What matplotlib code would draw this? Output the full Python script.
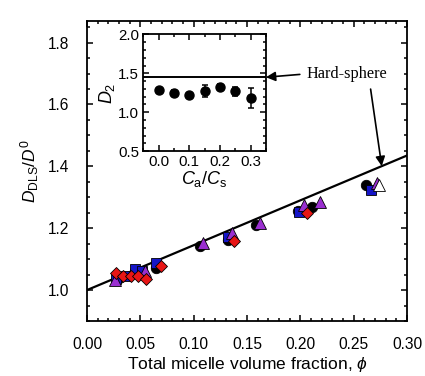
import matplotlib.pyplot as plt
import numpy as np
from matplotlib.ticker import MultipleLocator

plt.rcParams['font.family'] = ['Liberation Sans', 'DejaVu Sans']
plt.rcParams['mathtext.fontset'] = 'custom'
plt.rcParams['mathtext.rm'] = 'Liberation Sans'
plt.rcParams['mathtext.it'] = 'Liberation Sans:italic'

# main plot data: D_DLS/D0 vs total micelle volume fraction
phi_circle = [0.030, 0.045, 0.065, 0.106, 0.132, 0.158, 0.198, 0.211, 0.262]
d_circle = [1.040, 1.060, 1.070, 1.142, 1.162, 1.210, 1.256, 1.270, 1.340]

phi_square = [0.027, 0.037, 0.045, 0.052, 0.065, 0.1325, 0.199, 0.266]
d_square = [1.035, 1.045, 1.067, 1.060, 1.086, 1.172, 1.253, 1.324]

phi_tri = [0.026, 0.054, 0.1085, 0.1356, 0.162, 0.203, 0.218, 0.272]
d_tri = [1.032, 1.060, 1.151, 1.183, 1.216, 1.275, 1.286, 1.347]

phi_diam = [0.027, 0.034, 0.041, 0.0475, 0.055, 0.069, 0.138, 0.206]
d_diam = [1.054, 1.045, 1.045, 1.046, 1.036, 1.079, 1.160, 1.248]

phi_open = [0.274]
d_open = [1.340]

# hard-sphere slope
D2_hs = 1.45
phi_line = [0.0, 0.30]

# inset data: D2 vs Ca/Cs
ratio = [0.0, 0.05, 0.10, 0.15, 0.20, 0.25, 0.30]
D2 = [1.28, 1.25, 1.22, 1.27, 1.33, 1.27, 1.18]
D2_err = [0.03, 0.04, 0.03, 0.08, 0.03, 0.06, 0.13]

fig = plt.figure(figsize=(4.25, 3.76), dpi=100)
ax = fig.add_axes([0.2047, 0.1463, 0.753, 0.798])

ax.plot(phi_line, [1 + D2_hs * p for p in phi_line], color='black', lw=1.6, zorder=2)

mk = dict(linestyle='none', markeredgecolor='black', markeredgewidth=0.6, zorder=3)
ax.plot(phi_circle, d_circle, marker='o', color='black', ms=7.5, **mk)
ax.plot(phi_square, d_square, marker='s', color='#1515c8', ms=7, **mk)
ax.plot(phi_tri, d_tri, marker='^', color='#9a2fd0', ms=8.5, **mk)
ax.plot(phi_diam, d_diam, marker='D', color='#e81515', ms=6.5, **mk)
ax.plot(phi_open, d_open, marker='^', color='white', ms=8, **mk)

ax.set_xlim(0, 0.30)
ax.set_ylim(0.9, 1.87)
ax.xaxis.set_major_locator(MultipleLocator(0.05))
ax.xaxis.set_minor_locator(MultipleLocator(0.01))
ax.yaxis.set_major_locator(MultipleLocator(0.2))
ax.yaxis.set_minor_locator(MultipleLocator(0.05))
ax.xaxis.set_major_formatter(plt.FormatStrFormatter('%.2f'))
ax.yaxis.set_major_formatter(plt.FormatStrFormatter('%.1f'))
ax.tick_params(which='both', direction='in', top=True, right=True, width=1.1, labelsize=11.2)
ax.tick_params(which='major', length=4.5)
ax.tick_params(which='minor', length=2.5)
ax.tick_params(axis='x', pad=11.5)
ax.tick_params(axis='y', pad=13)
for s in ax.spines.values():
    s.set_linewidth(1.3)
ax.set_xlabel(r'Total micelle volume fraction, $\phi$', fontsize=12.5, labelpad=2)
ax.set_ylabel(r'$D_\mathrm{DLS}/D^0$', fontsize=12.5, labelpad=5)

# inset
ins = fig.add_axes([0.337, 0.598, 0.2887, 0.3104])
ins.axhline(D2_hs, color='black', lw=1.4)
ins.errorbar(ratio, D2, yerr=D2_err, fmt='o', color='black', ms=6.5,
             capsize=2.5, elinewidth=1.1, capthick=1.1)
ins.set_xlim(-0.05, 0.35)
ins.set_ylim(0.5, 2.0)
ins.xaxis.set_major_locator(MultipleLocator(0.1))
ins.xaxis.set_minor_locator(MultipleLocator(0.05))
ins.yaxis.set_major_locator(MultipleLocator(0.5))
ins.yaxis.set_minor_locator(MultipleLocator(0.1))
ins.xaxis.set_major_formatter(plt.FormatStrFormatter('%.1f'))
ins.yaxis.set_major_formatter(plt.FormatStrFormatter('%.1f'))
ins.tick_params(which='both', direction='in', top=True, right=True, width=1.1, labelsize=10.8)
ins.tick_params(which='major', length=4.5, pad=3)
ins.tick_params(which='minor', length=2.5)
for s in ins.spines.values():
    s.set_linewidth(1.3)
ins.set_xlabel(r'$C_\mathrm{a}/C_\mathrm{s}$', fontsize=13, labelpad=0)
ins.set_ylabel(r'$D_2$', fontsize=13, labelpad=1)

# hard-sphere annotations
arrow = dict(arrowstyle='-|>', color='black', lw=1.2, mutation_scale=14, shrinkA=3, shrinkB=0)
ax.annotate('Hard-sphere', xy=(0.35, D2_hs), xycoords=ins.transData,
            xytext=(0.206, 1.699), textcoords='data', ha='left', va='center',
            fontsize=11.7, family='Liberation Serif',
            arrowprops=dict(arrow, relpos=(0, 0.5)))
ax.annotate('', xy=(0.2763, 1 + D2_hs * 0.2763), xytext=(0.2653, 1.663),
            arrowprops=arrow)

fig.savefig('out.png', dpi=100)
